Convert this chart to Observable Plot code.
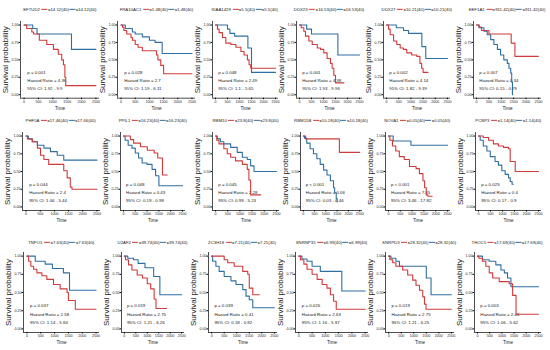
<!DOCTYPE html>
<html><head><meta charset="utf-8">
<script src="https://cdn.jsdelivr.net/npm/d3@7"></script>
<script src="https://cdn.jsdelivr.net/npm/@observablehq/plot@0.6"></script>
<style>
body{margin:0;background:#fff;}
#fig{position:relative;width:550px;height:350px;overflow:hidden;font-family:"Liberation Sans",Arial,sans-serif;}
.ttl{position:absolute;white-space:nowrap;font-size:4.3px;transform:translate(-50%,-50%);color:#222;line-height:1;}
.seg{display:inline-block;width:6px;height:1.1px;vertical-align:middle;margin:0 0.4px;}
.pan{position:absolute;}
</style></head><body><div id="fig"></div>
<script>
// ---------- data ----------
const genes = ["EFTUD2","FRA10AC1","KIAA1429","DDX23","DDX27","EEF1A1",
               "PHF5A","PPIL1","RBM10","RBM15B","NOVA1","PCBP3",
               "TNPO1","U2AF2","ZC3H18","SNRNP35","SNRPD3","THOC5"];
const cutoffs = ["14.12","1.48","5.5","16.53","10.21","911.42",
                 "17.46","16.23","23.8","10.18","0.05","1.14",
                 "7.63","39.74","7.21","6.99","28.32","17.69"];
const groupN = 40;
const pTexts = ["p = 0.001","p = 0.028","p = 0.048","p = 0.001","p = 0.002","p = 0.007",
                "p = 0.044","p = 0.048","p = 0.045","p < 0.001","p < 0.001","p = 0.025",
                "p = 0.037","p = 0.019","p = 0.039","p = 0.026","p = 0.019","p = 0.003"];
const hrTexts = ["4.36","2.7","2.49","4.38","4.14","0.34",
                 "2.4","0.43","2.28","0.06","7.85","0.4",
                 "2.58","2.75","0.41","2.63","2.75","2.46"];
const ciTexts = ["1.92 - 9.9","1.19 - 6.11","1.1 - 5.65","1.93 - 9.96","1.82 - 9.39","0.15 - 0.79",
                 "1.06 - 5.44","0.19 - 0.98","0.99 - 5.23","0.03 - 0.46","3.46 - 17.82","0.17 - 0.9",
                 "1.14 - 5.84","1.21 - 6.26","0.18 - 0.92","1.16 - 5.97","1.21 - 6.25","1.06 - 5.62"];
const xTicks = [0,500,1000,1500,2000,2500];
const yTicks = [0,0.25,0.5,0.75,1];
// high-expression group (red): [time, survival]
const highCurves = [
  [[0,1],[90,0.95],[270,0.9],[330,0.87],[530,0.78],[790,0.72],[1020,0.65],[1190,0.58],[1310,0.5],[1370,0.43],[1420,0.25],[1450,0.13],[2500,0.13]],
  [[0,1],[50,0.97],[100,0.92],[200,0.87],[350,0.82],[400,0.78],[500,0.72],[600,0.68],[750,0.63],[1250,0.57],[1300,0.5],[1400,0.42],[1500,0.3],[2500,0.3]],
  [[0,1],[80,0.94],[150,0.89],[290,0.82],[430,0.74],[640,0.72],[850,0.68],[1060,0.62],[1190,0.57],[1330,0.5],[1400,0.43],[1470,0.38],[2500,0.38]],
  [[0,1],[70,0.96],[180,0.91],[250,0.84],[390,0.77],[530,0.72],[740,0.67],[875,0.65],[1010,0.6],[1150,0.52],[1290,0.45],[1360,0.38],[1430,0.28],[1500,0.17],[1850,0.17]],
  [[0,1],[80,0.94],[150,0.86],[290,0.77],[420,0.72],[560,0.67],[690,0.65],[830,0.6],[1030,0.57],[1240,0.55],[1370,0.45],[1440,0.38],[1500,0.32],[1700,0.32]],
  [[0,1],[100,0.97],[200,0.92],[500,0.87],[1400,0.74],[1550,0.55],[2500,0.55]],
  [[0,1],[50,0.96],[220,0.92],[400,0.83],[510,0.73],[630,0.67],[800,0.6],[1330,0.51],[1450,0.41],[1560,0.28],[1620,0.25],[2500,0.25]],
  [[0,1],[290,0.95],[430,0.9],[720,0.85],[1010,0.8],[1300,0.76],[1450,0.69],[1650,0.45],[1850,0.45]],
  [[0,1],[50,0.94],[140,0.89],[340,0.82],[480,0.75],[620,0.7],[820,0.65],[1100,0.6],[1300,0.53],[1370,0.38],[1440,0.17],[1850,0.17]],
  [[0,1],[100,0.96],[1600,0.77],[2500,0.77]],
  [[0,1],[60,0.94],[170,0.86],[310,0.79],[460,0.71],[670,0.67],[890,0.57],[1170,0.54],[1310,0.47],[1460,0.37],[1530,0.27],[1600,0.17],[1670,0.15],[1850,0.15]],
  [[0,1],[200,0.98],[420,0.94],[620,0.89],[830,0.86],[1040,0.84],[1250,0.82],[1320,0.64],[1530,0.5],[2500,0.5]],
  [[0,1],[60,0.93],[140,0.86],[240,0.82],[360,0.77],[540,0.73],[720,0.68],[960,0.61],[1200,0.55],[1450,0.5],[1500,0.39],[1750,0.27],[2500,0.27]],
  [[0,1],[50,0.95],[180,0.88],[330,0.81],[560,0.74],[790,0.7],[1000,0.62],[1150,0.55],[1300,0.41],[1380,0.28],[1850,0.28]],
  [[0,1],[500,0.95],[640,0.91],[900,0.86],[1240,0.79],[1440,0.75],[1500,0.56],[1640,0.47],[1900,0.47]],
  [[0,1],[60,0.95],[190,0.89],[310,0.82],[500,0.75],[690,0.68],[880,0.61],[1060,0.56],[1190,0.47],[1310,0.38],[1410,0.27],[2500,0.27]],
  [[0,1],[50,0.95],[160,0.91],[290,0.86],[560,0.81],[760,0.74],[960,0.67],[1090,0.6],[1230,0.53],[1360,0.44],[1430,0.34],[1490,0.27],[2500,0.27]],
  [[0,1],[50,0.97],[200,0.93],[340,0.86],[480,0.77],[620,0.7],[890,0.65],[1300,0.62],[1440,0.46],[1580,0.2],[2500,0.2]]
];
// low-expression group (blue): [time, survival]
const lowCurves = [
  [[0,1],[300,0.95],[450,0.87],[1650,0.65],[2500,0.65]],
  [[0,1],[150,0.95],[400,0.9],[500,0.87],[750,0.83],[1000,0.78],[1200,0.75],[1450,0.59],[2500,0.59]],
  [[0,1],[500,0.94],[600,0.88],[800,0.84],[1350,0.67],[1500,0.32],[2500,0.32]],
  [[0,1],[300,0.94],[500,0.87],[1600,0.57],[2500,0.57]],
  [[0,1],[400,0.96],[700,0.92],[900,0.88],[1450,0.69],[1610,0.52],[2500,0.52]],
  [[0,1],[100,0.96],[300,0.91],[430,0.86],[570,0.79],[700,0.72],[840,0.65],[970,0.57],[1100,0.5],[1240,0.45],[1310,0.38],[1380,0.31],[1420,0.18],[1450,0.0]],
  [[0,1],[80,0.96],[220,0.92],[400,0.87],[630,0.83],[860,0.78],[1100,0.73],[1330,0.66],[2500,0.66]],
  [[0,1],[70,0.94],[200,0.87],[360,0.83],[500,0.76],[640,0.69],[790,0.62],[1000,0.6],[1210,0.53],[1360,0.44],[1500,0.3],[2500,0.3]],
  [[0,1],[70,0.96],[200,0.92],[340,0.89],[620,0.84],[890,0.77],[1100,0.7],[1300,0.67],[1440,0.58],[1580,0.5],[2500,0.5]],
  [[0,1],[50,0.97],[150,0.9],[300,0.82],[450,0.75],[600,0.68],[750,0.6],[900,0.52],[1050,0.45],[1200,0.37],[1340,0.27],[1390,0.2],[1460,0.12],[1500,0.07]],
  [[0,1],[200,0.93],[950,0.87],[2500,0.87]],
  [[0,1],[70,0.94],[200,0.86],[350,0.79],[490,0.71],[690,0.64],[830,0.59],[970,0.51],[1110,0.46],[1250,0.41],[1320,0.36],[1400,0.32],[1450,0.32]],
  [[0,1],[300,0.93],[660,0.89],[920,0.83],[1320,0.77],[1540,0.53],[2500,0.53]],
  [[0,1],[150,0.97],[400,0.95],[600,0.9],[900,0.84],[1280,0.72],[1550,0.47],[2500,0.47]],
  [[0,1],[40,0.93],[170,0.86],[300,0.79],[500,0.72],[770,0.66],[970,0.61],[1240,0.54],[1370,0.45],[1500,0.4],[1640,0.29],[2500,0.29]],
  [[0,1],[120,0.96],[310,0.93],[500,0.86],[810,0.79],[1620,0.52],[2500,0.52]],
  [[0,1],[90,0.97],[290,0.93],[430,0.86],[1500,0.7],[1690,0.47],[2500,0.47]],
  [[0,1],[200,0.95],[480,0.93],[750,0.88],[960,0.81],[1100,0.77],[1230,0.7],[1370,0.58],[2500,0.58]]
];

// ---------- layout (positions/sizes only) ----------
const RED = "#d03a3a", BLUE = "#2f6ea3";
const rowTop = [20.5, 132, 252.4], rowH = [76.7, 78, 80], rowTitleY = [10, 121, 243];
const panelX = [[20.4,79],[117.4,78],[211.7,66],[296,66],[383.3,67],[473,68],
                [21.7,78],[120.3,65],[212,67],[300,62],[384.7,65],[475.3,66],
                [23.2,76],[121,63],[207.5,69],[295,73],[384.6,69],[473.6,67]];
const ML = 22, MR = 2, MT = 2, MB = 14;
const xDom = [-125, 2625], yDom = [-0.05, 1.05];
const FONT = "'Liberation Sans', Arial, sans-serif";

const fig = document.getElementById("fig");
genes.forEach((g, i) => {
  const row = Math.floor(i / 6);
  const [left, w] = panelX[i];
  const h = rowH[row], top = rowTop[row];
  const hi = highCurves[i].map(([t, s]) => ({t, s}));
  const lo = lowCurves[i].map(([t, s]) => ({t, s}));
  const stats = [
    {t: 110, s: 0.32, label: pTexts[i]},
    {t: 110, s: 0.2, label: "Hazard Ratio = " + hrTexts[i]},
    {t: 110, s: 0.09, label: "95% CI: " + ciTexts[i]}
  ];
  const svg = Plot.plot({
    width: ML + w + MR, height: MT + h + MB,
    marginLeft: ML, marginRight: MR, marginTop: MT, marginBottom: MB,
    x: {domain: xDom}, y: {domain: yDom},
    style: {background: "transparent", fontSize: "3.6px", fontFamily: FONT, color: "#222", overflow: "visible"},
    marks: [
      Plot.ruleX([xDom[0]], {stroke: "#000", strokeWidth: 0.7}),
      Plot.ruleY([yDom[0]], {stroke: "#000", strokeWidth: 0.7}),
      Plot.axisX({ticks: xTicks, tickSize: 1.5, tickPadding: 0.6, label: null, tickFormat: d => String(d), stroke: "#000"}),
      Plot.axisY({ticks: yTicks, tickSize: 1.5, tickPadding: 0.6, label: null, tickFormat: d3.format(".2f"), stroke: "#000"}),
      Plot.text(["Survival probability"], {frameAnchor: "left", textAnchor: "middle", lineAnchor: "middle", rotate: -90, dx: -15, fontSize: 8, fill: "#222"}),
      Plot.text(["Time"], {frameAnchor: "bottom", textAnchor: "middle", lineAnchor: "middle", dy: 10, fontSize: 4.6, fill: "#222"}),
      Plot.text(stats, {x: "t", y: "s", text: "label", textAnchor: "start", fontSize: 4.4, fill: "#222"}),
      Plot.line(lo, {x: "t", y: "s", curve: "step-after", stroke: BLUE, strokeWidth: 1.1}),
      Plot.line(hi, {x: "t", y: "s", curve: "step-after", stroke: RED, strokeWidth: 1.1})
    ]
  });
  const pan = document.createElement("div");
  pan.className = "pan";
  pan.style.left = (left - ML) + "px";
  pan.style.top = (top - MT) + "px";
  pan.appendChild(svg);
  fig.appendChild(pan);

  const ttl = document.createElement("div");
  ttl.className = "ttl";
  ttl.style.left = (left + w / 2) + "px";
  ttl.style.top = rowTitleY[row] + "px";
  ttl.innerHTML = `${g} <span class="seg" style="background:${RED}"></span>=${cutoffs[i]}(${groupN})<span class="seg" style="background:${BLUE}"></span>=${cutoffs[i]}(${groupN})`;
  fig.appendChild(ttl);
});
</script></body></html>
